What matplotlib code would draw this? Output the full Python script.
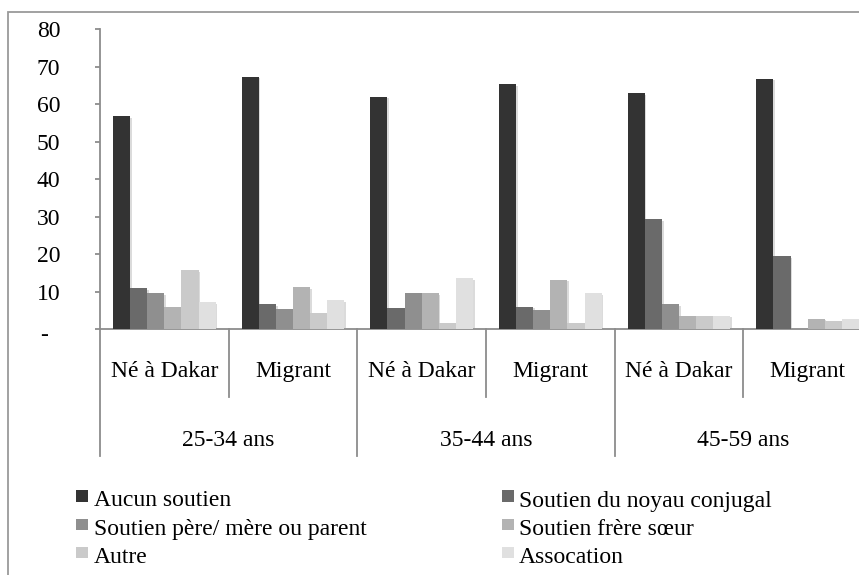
import matplotlib
matplotlib.use('Agg')
import matplotlib.pyplot as plt
import matplotlib.patches as mpatches
import matplotlib.patheffects as pe
import matplotlib.transforms as mtransforms
import numpy as np

plt.rcParams['font.family'] = ['Liberation Serif', 'DejaVu Serif']

# ── Data ─────────────────────────────────────────────────────────────────────
statuts = ['Né à Dakar', 'Migrant', 'Né à Dakar', 'Migrant', 'Né à Dakar', 'Migrant']
ages = ['25-34 ans', '35-44 ans', '45-59 ans']
series = ['Aucun soutien', 'Soutien du noyau conjugal', 'Soutien père/ mère ou parent',
          'Soutien frère sœur', 'Autre', 'Assocation']

aucun     = [56.9, 67.4, 62.0, 65.4, 62.9, 66.8]
conjugal  = [10.9, 6.7, 5.8, 6.0, 29.4, 19.5]
parent    = [9.7, 5.4, 9.8, 5.2, 6.7, 0.0]
fratrie   = [6.0, 11.2, 9.7, 13.2, 3.6, 2.8]
autre     = [15.8, 4.4, 1.7, 1.7, 3.6, 2.1]
assoc     = [7.3, 7.7, 13.7, 9.6, 3.6, 2.8]
values = [aucun, conjugal, parent, fratrie, autre, assoc]

yticks = [0, 10, 20, 30, 40, 50, 60, 70, 80]
yticklabels = ['-  '] + [str(v) for v in yticks[1:]]

colors = ['#333333', '#6a6a6a', '#8f8f8f', '#b3b3b3', '#cacaca', '#e0e0e0']
axis_grey = '#8c8c8c'

# ── Figure ───────────────────────────────────────────────────────────────────
W, H = 859, 575
fig = plt.figure(figsize=(W / 100, H / 100), dpi=100, facecolor='white')

def px(x0, y0, x1, y1):
    # pixel box (top-left origin) -> figure fraction [l, b, w, h]
    return [x0 / W, 1 - y1 / H, (x1 - x0) / W, (y1 - y0) / H]

# outer chart frame (runs off the right and bottom edges)
frame = mpatches.Rectangle((7.5 / W, -0.1), 1.2, 1.1 - 12 / H,
                           transform=fig.transFigure, fill=False,
                           edgecolor='#9a9a9a', linewidth=1.3)
fig.patches.append(frame)

ax = fig.add_axes(px(100, 29.3, 872, 329.3))
ax.set_xlim(0, 6)
ax.set_ylim(0, 80)

n = len(series)
w = 0.8 / n
x = np.arange(len(statuts)) + 0.5
shadow = [pe.SimplePatchShadow(offset=(1.2, -1.2), shadow_rgbFace='#999999', alpha=0.35),
          pe.Normal()]
for j, (vals, col) in enumerate(zip(values, colors)):
    bars = ax.bar(x + (j - (n - 1) / 2) * w, vals, width=w, color=col,
                  edgecolor='none', zorder=3, label=series[j])
    for b in bars:
        b.set_path_effects(shadow)

for s in ['top', 'right']:
    ax.spines[s].set_visible(False)
for s in ['left', 'bottom']:
    ax.spines[s].set_color(axis_grey)
    ax.spines[s].set_linewidth(1.3)

ax.set_yticks(yticks)
ax.set_yticklabels(yticklabels, fontsize=17)
ax.tick_params(axis='y', direction='out', length=3.6, width=1.3, color=axis_grey, pad=25)
ax.set_xticks([])
# the zero label sits a little below its tick
zero = ax.get_yticklabels()[0]
zero.set_transform(zero.get_transform() +
                   mtransforms.ScaledTranslation(0, -4 / 100, fig.dpi_scale_trans))

# two-level category axis
trans = mtransforms.blended_transform_factory(ax.transData, ax.transAxes)
for k in range(7):
    depth = -0.423 if k % 2 == 0 else -0.227
    ax.plot([k, k], [0, depth], transform=trans, color=axis_grey, lw=1.3,
            clip_on=False, zorder=2)
for i, lab in enumerate(statuts):
    ax.text(x[i], -0.16, lab, transform=trans, ha='center', va='baseline', fontsize=17)
for g, lab in enumerate(ages):
    ax.text(2 * g + 1, -0.388, lab, transform=trans, ha='center', va='baseline', fontsize=17)

# legend in two columns
col_x = [(76, 94), (502, 519)]
row_y = [506.5, 535, 563]
for idx in range(len(series)):
    r, c = idx // 2, idx % 2
    sx, tx = col_x[c]
    base = row_y[r]
    sq = mpatches.Rectangle((sx / W, 1 - (base - 5) / H), 11.5 / W, 11.5 / H,
                            transform=fig.transFigure, facecolor=colors[idx],
                            edgecolor='none')
    fig.patches.append(sq)
    fig.text(tx / W, 1 - base / H, series[idx], ha='left', va='baseline', fontsize=17)

plt.savefig('out.png', dpi=100, facecolor='white')
